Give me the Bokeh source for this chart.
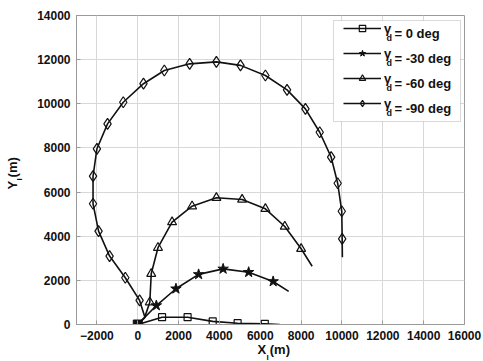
import numpy as np
from bokeh.plotting import figure
from bokeh.models import Range1d, Legend, LegendItem, Label, FixedTicker, BoxAnnotation
from bokeh.embed import file_html
from bokeh.resources import INLINE

# ---------------- data ----------------
x_ticks = [-2000, 0, 2000, 4000, 6000, 8000, 10000, 12000, 14000, 16000]
y_ticks = [0, 2000, 4000, 6000, 8000, 10000, 12000, 14000]

series_values = ["0", "-30", "-60", "-90"]

# common start point (filled square)
start_x = [0]
start_y = [0]

# gamma_d = 0 deg
path_x_0 = [0, 1190, 2440, 3670, 4890, 6220, 6950]
path_y_0 = [0, 330, 330, 140, 60, 30, 0]
mark_x_0 = [1190, 2440, 3670, 4890, 6220]
mark_y_0 = [330, 330, 140, 60, 30]

# gamma_d = -30 deg
path_x_30 = [0, 910, 1870, 2980, 4180, 5430, 6630, 7390]
path_y_30 = [0, 860, 1620, 2270, 2520, 2370, 1950, 1500]
mark_x_30 = [910, 1870, 2980, 4180, 5430, 6630]
mark_y_30 = [860, 1620, 2270, 2520, 2370, 1950]

# gamma_d = -60 deg
path_x_60 = [0, 330, 590, 660, 990, 1680, 2660, 3850, 5110, 6250, 7200, 8000, 8540]
path_y_60 = [0, 300, 1010, 2300, 3480, 4640, 5360, 5740, 5660, 5240, 4440, 3430, 2640]
mark_x_60 = [590, 660, 990, 1680, 2660, 3850, 5110, 6250, 7200, 8000]
mark_y_60 = [1010, 2300, 3480, 4640, 5360, 5740, 5660, 5240, 4440, 3430]

# gamma_d = -90 deg
path_x_90 = [0, 350, 90, -610, -1380, -1920, -2190, -2190, -2000, -1480, -710, 280,
             1300, 2540, 3850, 5030, 6250, 7310, 8210, 8910, 9470, 9790, 9990, 10010, 10020]
path_y_90 = [0, 330, 1090, 2120, 3100, 4230, 5470, 6720, 7960, 9090, 10070, 10910,
             11510, 11810, 11900, 11740, 11280, 10630, 9770, 8710, 7580, 6400, 5130, 3880, 3050]
mark_x_90 = [90, -610, -1380, -1920, -2190, -2190, -2000, -1480, -710, 280,
             1300, 2540, 3850, 5030, 6250, 7310, 8210, 8910, 9470, 9790, 9990, 10010]
mark_y_90 = [1090, 2120, 3100, 4230, 5470, 6720, 7960, 9090, 10070, 10910,
             11510, 11810, 11900, 11740, 11280, 10630, 9770, 8710, 7580, 6400, 5130, 3880]

FONT = "Liberation Sans"
INK = "#111111"
GRAY = "#9a9a9a"

p = figure(width=483, height=361, output_backend="svg", toolbar_location=None,
           x_range=Range1d(-3000, 16000), y_range=Range1d(0, 14000),
           min_border_left=76, min_border_right=19, min_border_top=15, min_border_bottom=37)
p.background_fill_color = "white"
p.border_fill_color = "white"
p.outline_line_color = GRAY
p.outline_line_width = 1

for ax in (p.xaxis[0], p.yaxis[0]):
    ax.axis_line_color = GRAY
    ax.major_tick_line_color = GRAY
    ax.major_tick_in = 4
    ax.major_tick_out = 0
    ax.minor_tick_line_color = None
    ax.major_label_text_font = FONT
    ax.major_label_text_font_style = "bold"
    ax.major_label_text_font_size = "12px"
    ax.major_label_text_color = "#111111"
p.xaxis[0].ticker = FixedTicker(ticks=x_ticks)
p.yaxis[0].ticker = FixedTicker(ticks=y_ticks)
p.xaxis[0].major_label_standoff = 6
p.yaxis[0].major_label_standoff = 6
p.xgrid[0].ticker = FixedTicker(ticks=x_ticks)
p.ygrid[0].ticker = FixedTicker(ticks=y_ticks)
p.grid.grid_line_color = "#d8d8d8"
p.grid.grid_line_width = 1

LW = 1.6
r0l = p.line(path_x_0, path_y_0, line_color=INK, line_width=LW)
r0m = p.scatter(mark_x_0, mark_y_0, marker="square", size=7, fill_color=None,
                line_color=INK, line_width=1.2)
r1l = p.line(path_x_30, path_y_30, line_color=INK, line_width=LW)
r1m = p.scatter(mark_x_30, mark_y_30, marker="star", size=11, fill_color=INK,
                line_color=INK, line_width=1)
r2l = p.line(path_x_60, path_y_60, line_color=INK, line_width=LW)
r2m = p.scatter(mark_x_60, mark_y_60, marker="triangle", size=9, fill_color=None,
                line_color=INK, line_width=1.2)
r3l = p.line(path_x_90, path_y_90, line_color=INK, line_width=LW)
r3m = p.scatter(mark_x_90, mark_y_90, marker="diamond", size=11,
                fill_color=None, line_color=INK, line_width=1.2)
p.scatter(start_x, start_y, marker="square", size=9, fill_color=INK, line_color=INK)

# frame placement in canvas pixels
F_LEFT, F_RIGHT, F_TOP, F_BOTTOM = 76, 464, 15, 324


def fx(cx):
    return cx - F_LEFT


def fy(cy):
    return F_BOTTOM - cy


# legend: white box behind, transparent bokeh legend on top of it
LEG_L, LEG_R, LEG_T, LEG_B = 333, 460, 20, 121
p.add_layout(BoxAnnotation(left=fx(LEG_L), right=fx(LEG_R), top=fy(LEG_T), bottom=fy(LEG_B),
                           left_units="screen", right_units="screen",
                           top_units="screen", bottom_units="screen",
                           fill_color="white", fill_alpha=1,
                           line_color="#808080", line_width=1))

items = [LegendItem(label="γ", renderers=[a, b]) for a, b in
         [(r0l, r0m), (r1l, r1m), (r2l, r2m), (r3l, r3m)]]
legend = Legend(items=items, location="top_right", margin=5, padding=5,
                spacing=9, glyph_height=16, label_height=16, glyph_width=38,
                label_standoff=3, label_width=75,
                label_text_font=FONT, label_text_font_style="bold",
                label_text_font_size="13px", label_text_color=INK,
                border_line_color=None, background_fill_alpha=0)
p.add_layout(legend, "center")


def add_text(text, x, y, size, angle=0.0, baseline="alphabetic", place="center"):
    lab = Label(x=x, y=y, x_units="screen", y_units="screen",
                text=text, text_font=FONT, text_font_style="bold",
                text_font_size=size, text_color=INK, angle=angle,
                text_baseline=baseline, text_align="left")
    if place == "center":
        p.add_layout(lab)
    else:
        p.add_layout(lab, place)


# legend texts with subscript d
row_centers = [33, 58, 83, 108]
for val, cy in zip(series_values, row_centers):
    add_text("d", fx(386), fy(cy + 4), "9px", baseline="middle")
    add_text("= " + val + " deg", fx(394), fy(cy), "13px", baseline="middle")

# x axis label X_I (m): main text in the below panel, subscript placed from the above panel
add_text("X  (m)", fx(257), 1, "13px", baseline="bottom", place="below")
add_text("I", fx(266), F_TOP - 361, "8px", baseline="bottom", place="above")
# y axis label Y_I (m): main text in the left panel, subscript placed from the right panel
add_text("Y  (m)", 0, fy(189), "13px", angle=np.pi / 2, baseline="bottom", place="left")
add_text("I", 23 - F_RIGHT, fy(180), "8px", angle=np.pi / 2, baseline="bottom", place="right")

open("out.html", "w").write(file_html(p, INLINE))
